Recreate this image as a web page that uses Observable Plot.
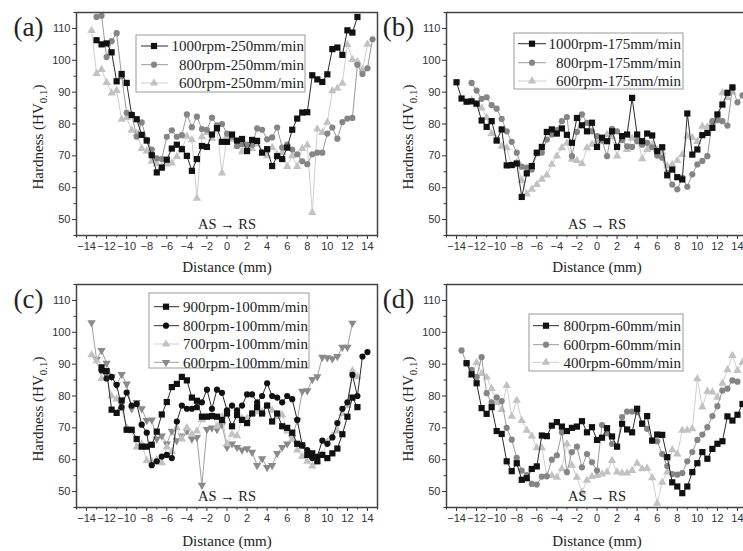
<!DOCTYPE html>
<html><head><meta charset="utf-8">
<script src="https://cdn.jsdelivr.net/npm/d3@7"></script>
<script src="https://cdn.jsdelivr.net/npm/@observablehq/plot@0.6"></script>
<style>
html,body{margin:0;padding:0;background:#fff;}
#chart{position:relative;width:743px;height:551px;overflow:hidden;background:#fff;}
.panel{position:absolute;width:380px;}
</style></head><body><div id="chart"></div>
<script>
// measurement positions (mm), 0.5 mm step
const distance = [
  -14, -13.5, -13, -12.5, -12, -11.5, -11, -10.5, -10, -9.5,
  -9, -8.5, -8, -7.5, -7, -6.5, -6, -5.5, -5, -4.5,
  -4, -3.5, -3, -2.5, -2, -1.5, -1, -0.5, 0, 0.5,
  1, 1.5, 2, 2.5, 3, 3.5, 4, 4.5, 5, 5.5,
  6, 6.5, 7, 7.5, 8, 8.5, 9, 9.5, 10, 10.5,
  11, 11.5, 12, 12.5, 13, 13.5, 14, 14.5];
const xTickLabels = [-14, -12, -10, -8, -6, -4, -2, 0, 2, 4, 6, 8, 10, 12, 14];
const xMinorTicks = [-15, -13, -11, -9, -7, -5, -3, -1, 1, 3, 5, 7, 9, 11, 13, 15];
const yTickLabels = [50, 60, 70, 80, 90, 100, 110];
const yMinorTicks = [45, 55, 65, 75, 85, 95, 105, 115];

// (a) 250 mm/min
const a1000 = [
  null, null, 106.3, 105.0, 105.3, 102.5, 93.4, 95.7, 92.9, 82.8,
  81.5, 76.6, 74.8, 70.2, 64.8, 66.3, 68.8, 72.3, 73.5, 72.1,
  70.0, 65.3, 69.0, 73.1, 72.8, 76.7, 78.7, 74.4, 74.4, 76.7,
  74.8, 75.3, 71.5, 75.0, 74.7, 71.0, 72.1, 66.8, 69.9, 69.0,
  72.6, 78.2, 81.7, 83.6, 83.7, 95.3, 94.0, 93.2, 95.6, 103.5,
  104.0, 101.7, 109.4, 108.7, 113.6, null, null, null];
const a800 = [
  null, null, 113.6, 114.0, 101.0, 106.0, 108.5, 95.0, 83.5, 83.0,
  76.0, 80.5, 75.0, 72.0, 69.2, 69.0, 76.0, 78.0, 76.0, 76.5,
  83.0, 79.0, 82.3, 78.4, 78.2, 82.0, 79.6, 80.0, 77.0, 76.0,
  73.1, 73.7, 73.5, 73.5, 78.6, 78.2, 75.2, 75.8, 78.9, 72.6,
  73.5, 72.0, 70.5, 68.3, 67.4, 70.5, 71.0, 71.0, 77.0, 78.9,
  75.4, 80.6, 81.7, 81.9, 98.6, 95.7, 97.5, 106.6];
const a600 = [
  null, 109.3, 95.8, 97.1, 93.0, 89.7, 90.5, 81.5, 82.0, 78.0,
  77.0, 72.3, 71.5, 68.3, 67.5, 66.6, 67.4, 67.7, 69.8, 72.1,
  76.1, 75.0, 56.7, 76.0, 77.3, 75.4, 78.2, 64.6, 76.3, 75.2,
  73.1, 71.3, 73.0, 72.3, 73.7, 71.0, 70.0, 72.6, 70.5, 71.0,
  66.6, 70.0, 66.6, 72.3, 73.4, 52.2, 78.4, 77.3, 80.5, 90.4,
  91.2, 92.8, 104.9, 100.2, 99.5, 97.0, 105.0, null];

// (b) 175 mm/min
const b1000 = [
  93.1, 88.0, 87.0, 87.1, 86.4, 81.1, 79.1, 80.9, 74.8, 78.3,
  67.0, 67.1, 67.6, 57.1, 64.5, 66.8, 71.0, 72.8, 77.5, 78.3,
  77.0, 78.6, 76.6, 74.1, 81.9, 79.6, 77.7, 80.4, 72.8, 75.7,
  74.6, 77.7, 72.8, 76.2, 76.7, 88.2, 76.7, 74.6, 77.0, 76.4,
  71.5, 72.7, 63.9, 65.7, 63.3, 62.6, 83.3, 70.4, 72.0, 76.5,
  77.2, 78.8, 83.0, 86.1, 89.8, 91.5, null, null];
const b800 = [
  null, null, null, 92.9, 90.5, 87.9, 88.4, 85.9, 84.8, 81.6,
  77.7, 74.4, 71.0, 66.6, 66.3, 65.7, 70.8, 71.0, 75.1, 76.7,
  78.1, 80.9, 82.2, 69.9, 77.5, 83.0, 80.4, 77.7, 76.2, 74.8,
  69.9, 78.5, 77.7, 75.0, 73.0, 72.8, 74.6, 73.5, 74.1, 72.7,
  70.1, 69.4, 64.7, 61.0, 59.5, 63.1, 60.3, 64.2, 67.3, 68.4,
  69.9, 80.9, 81.2, 80.9, 79.5, 91.3, 86.8, 89.0];
const b600 = [
  null, null, null, 87.5, 86.0, 85.0, 82.0, 77.0, 75.0, 73.0,
  72.5, 67.0, 68.0, 62.3, 58.0, 59.5, 61.0, 62.6, 64.0, 67.3,
  69.9, 72.5, 74.0, 68.9, 68.5, 67.6, 72.5, 73.6, 74.6, 75.1,
  76.7, 76.0, 69.9, 75.5, 72.0, 75.5, 76.0, 69.1, 72.0, 73.5,
  72.0, 71.0, 66.8, 67.3, 68.5, 70.4, 76.2, 75.7, 74.5, 79.3,
  79.0, 80.5, 82.4, 89.8, 88.2, 90.0, null, null];

// (c) 100 mm/min
const c900 = [
  null, null, null, 89.0, 87.8, 75.7, 74.7, 78.6, 69.4, 69.4,
  66.5, 64.1, 64.1, 64.7, 68.8, 74.2, 78.1, 82.8, 83.8, 86.0,
  84.9, 79.5, 78.5, 73.5, 73.5, 73.7, 73.5, 72.5, 74.5, 70.5,
  74.0, 72.5, 71.5, 74.5, 76.5, 74.5, 77.0, 72.0, 74.5, 70.5,
  70.0, 68.5, 65.0, 64.5, 61.5, 62.0, 59.5, 61.5, 60.5, 62.0,
  63.5, 68.0, 73.5, 79.5, 76.5, null, null, null];
const c800 = [
  null, null, null, 88.0, 85.5, 86.0, 83.5, 76.5, 81.1, 77.0,
  77.5, 71.0, 68.5, 58.3, 59.5, 61.0, 61.5, 60.5, 72.0, 77.0,
  76.0, 76.0, 76.5, 78.0, 82.0, 76.0, 82.0, 81.0, 75.5, 77.0,
  75.5, 77.0, 80.5, 80.5, 78.0, 80.0, 84.0, 80.0, 79.5, 78.0,
  80.0, 79.0, 72.5, 64.5, 63.0, 60.5, 61.0, 66.0, 65.0, 67.0,
  71.5, 76.0, 78.0, 86.6, 80.0, 92.4, 93.8, null];
const c700 = [
  null, 92.9, 91.0, 85.5, 86.0, 80.0, 79.0, 76.0, 70.0, 69.0,
  64.0, 65.0, 59.7, 59.5, 60.0, 59.0, 64.0, 62.5, 70.0, 66.5,
  70.0, 68.0, 69.0, 72.5, 73.5, 74.0, 70.5, 73.5, 65.0, 68.0,
  67.5, 73.0, 73.0, 74.5, 75.0, 75.0, 77.0, 75.5, 73.5, 74.0,
  69.0, 66.5, 63.0, 61.0, 59.5, 58.0, 59.5, 61.5, 65.5, 67.5,
  69.0, 74.5, 77.0, 88.0, 86.0, null, null, null];
const c600 = [
  null, 103.0, 91.5, 94.3, 90.3, 86.0, 83.5, 86.8, 83.8, 76.0,
  78.0, 76.0, 72.3, 72.5, 66.5, 67.5, 65.0, 69.0, 66.0, 67.5,
  69.0, 66.5, 67.0, 52.0, 69.5, 70.0, 69.5, 71.0, 63.9, 65.0,
  63.9, 63.1, 63.5, 62.4, 58.2, 60.3, 57.6, 58.2, 62.0, 63.9,
  65.0, 67.0, 72.3, 81.5, 81.7, 85.2, 86.1, 92.2, 92.0, 91.7,
  92.4, 95.3, 95.3, 102.9, null, null, null, null];

// (d) 60 mm/min
const d800 = [
  null, null, 90.3, 86.8, 84.0, 76.2, 74.4, 76.5, 69.0, 68.1,
  59.5, 56.4, 58.9, 53.7, 54.2, 57.1, 57.9, 67.6, 67.4, 70.7,
  71.8, 70.4, 69.0, 70.0, 70.4, 72.1, 68.6, 70.2, 66.2, 66.9,
  69.9, 67.3, 64.1, 71.3, 69.5, 68.6, 76.0, 71.3, 73.7, 66.0,
  67.9, 67.8, 60.8, 52.9, 51.6, 49.5, 51.6, 56.1, 58.9, 62.4,
  60.3, 63.4, 65.0, 65.8, 73.6, 72.3, 74.1, 77.5];
const d600 = [
  null, 94.3, 90.3, 88.2, 85.9, 92.2, 80.9, 78.0, 79.6, 78.4,
  70.0, 66.3, 60.6, 56.6, 55.2, 52.4, 52.2, 54.7, 54.8, 60.0,
  61.4, 68.6, 56.1, 62.4, 64.1, 57.6, 61.8, 59.2, 56.6, 70.9,
  68.3, 65.0, 64.1, 73.4, 75.1, 75.1, 74.9, 71.3, 69.7, 66.0,
  65.8, 61.8, 58.0, 55.5, 55.3, 55.8, 59.5, 62.4, 66.2, 67.9,
  70.2, 73.7, 76.8, 81.7, 82.3, 84.9, 84.5, null];
const d400 = [
  null, null, null, 86.5, 90.5, 87.0, 85.9, 82.3, 77.9, 75.7,
  83.3, 73.6, 78.6, 72.3, 69.2, 67.4, 63.7, 63.7, 55.0, 55.0,
  54.5, 57.1, 65.0, 58.2, 54.5, 49.8, 53.5, 54.7, 55.0, 55.5,
  56.1, 59.7, 56.1, 55.8, 55.8, 56.6, 58.9, 57.1, 57.3, 54.3,
  46.3, 52.9, 56.1, 63.1, 61.8, 69.2, 69.2, 69.7, 85.4, 76.5,
  81.5, 81.2, 79.6, 84.0, 88.2, 92.7, 88.0, 90.6];

const SERIF = "'Liberation Serif','Times New Roman',serif";
const SANS = "'Liberation Sans',Arial,sans-serif";
const triangleDown = {
  draw(context, size) {
    const y = Math.sqrt(size / (Math.sqrt(3) * 3));
    context.moveTo(0, 2 * y);
    context.lineTo(-Math.sqrt(3) * y, -y);
    context.lineTo(Math.sqrt(3) * y, -y);
    context.closePath();
  }
};
const SYM = {square: d3.symbolSquare, circle: d3.symbolCircle, triangle: d3.symbolTriangle, down: triangleDown};
const PLOTSYM = {square: "square", circle: "circle", triangle: "triangle", down: triangleDown};
const R = {square: 3.5, circle: 3.1, triangle: 3.1, down: 3.1};
const BLACK = {fill: "#111", line: "#2b2b2b"};
const GRAY = {fill: "#858585", line: "#9a9a9a"};
const LIGHT = {fill: "#c2c2c2", line: "#cfcfcf"};

const panels = [
  {left: 0, top: 0, height: 275, mb: 40, label: "(a)",
   series: [
     {name: "1000rpm-250mm/min", values: a1000, sym: "square", ...BLACK},
     {name: "800rpm-250mm/min", values: a800, sym: "circle", ...GRAY},
     {name: "600rpm-250mm/min", values: a600, sym: "triangle", ...LIGHT}],
   legend: {x0: 136, y0: 35, x1: 305, y1: 92, rows: [46, 64.7, 83], sx: 154, lx0: 141, lx1: 168, tx: 304}},
  {left: 370, top: 0, height: 275, mb: 40, label: "(b)",
   series: [
     {name: "1000rpm-175mm/min", values: b1000, sym: "square", ...BLACK},
     {name: "800rpm-175mm/min", values: b800, sym: "circle", ...GRAY},
     {name: "600rpm-175mm/min", values: b600, sym: "triangle", ...LIGHT}],
   legend: {x0: 144, y0: 33, x1: 313, y1: 89, rows: [43.7, 62.7, 81], sx: 162, lx0: 148, lx1: 176, tx: 311}},
  {left: 0, top: 272, height: 279, mb: 44, label: "(c)",
   series: [
     {name: "900rpm-100mm/min", values: c900, sym: "square", ...BLACK},
     {name: "800rpm-100mm/min", values: c800, sym: "circle", ...BLACK},
     {name: "700rpm-100mm/min", values: c700, sym: "triangle", ...LIGHT},
     {name: "600rpm-100mm/min", values: c600, sym: "down", fill: "#8a8a8a", line: "#a0a0a0"}],
   legend: {x0: 149, y0: 21, x1: 309, y1: 96, rows: [34.7, 53.7, 72, 90.3], sx: 166, lx0: 154, lx1: 179, tx: 308}},
  {left: 370, top: 272, height: 279, mb: 44, label: "(d)",
   series: [
     {name: "800rpm-60mm/min", values: d800, sym: "square", ...BLACK},
     {name: "600rpm-60mm/min", values: d600, sym: "circle", ...GRAY},
     {name: "400rpm-60mm/min", values: d400, sym: "triangle", ...LIGHT}],
   legend: {x0: 159, y0: 42, x1: 313, y1: 99, rows: [53.7, 72.7, 90.3], sx: 176, lx0: 163, lx1: 189, tx: 311}}
];

function rowsOf(values) {
  return distance.map((d, i) => ({d, v: values[i]})).filter(r => r.v != null);
}

const chart = document.getElementById("chart");
for (const p of panels) {
  const drawOrder = p.series.slice().reverse();
  const marks = [];
  for (const s of drawOrder) {
    const rows = rowsOf(s.values);
    marks.push(Plot.line(rows, {x: "d", y: "v", stroke: s.line, strokeWidth: 1}));
    marks.push(Plot.dot(rows, {x: "d", y: "v", symbol: PLOTSYM[s.sym], r: R[s.sym], fill: s.fill, stroke: "none"}));
  }
  marks.push(
    Plot.axisX(xTickLabels, {tickSize: 4, tickPadding: 3, fontSize: 11, label: null, stroke: "#333", fill: "#333"}),
    Plot.axisX(xMinorTicks, {tickSize: 2.5, tickFormat: () => "", label: null, stroke: "#333"}),
    Plot.axisY(yTickLabels, {tickSize: 4, tickPadding: 2, fontSize: 11, label: null, stroke: "#333", fill: "#333"}),
    Plot.axisY(yMinorTicks, {tickSize: 2.5, tickFormat: () => "", label: null, stroke: "#333"}),
    Plot.frame({stroke: "#444", strokeWidth: 1.5}),
    Plot.text([{x: 0, t: "AS \u2192 RS"}], {x: "x", text: "t", frameAnchor: "bottom", dy: -11, lineAnchor: "middle", fontFamily: SERIF, fontSize: 14.5, fill: "#222"}),
    Plot.text(["Distance (mm)"], {frameAnchor: "bottom", dy: p.mb === 40 ? 32 : 34, lineAnchor: "middle", fontFamily: SERIF, fontSize: 15, fill: "#222"}),
    Plot.text([p.label], {frameAnchor: "top-left", dx: -48, dy: 15, lineAnchor: "middle", textAnchor: "middle", fontFamily: SERIF, fontSize: 27, fill: "#222"})
  );
  const svg = Plot.plot({
    width: 380, height: p.height,
    marginLeft: 76, marginRight: 3, marginTop: 12, marginBottom: p.mb,
    x: {domain: [-15, 15]},
    y: {domain: [45, 115]},
    style: {background: "transparent", fontFamily: SANS, fontSize: "11px", color: "#333", overflow: "visible"},
    marks
  });
  const sel = d3.select(svg);
  // y axis title with subscript
  const t = sel.append("text")
    .attr("transform", "translate(43,137) rotate(-90)")
    .attr("text-anchor", "middle")
    .attr("font-family", SERIF).attr("font-size", 15).attr("fill", "#222");
  t.append("tspan").text("Hardness (HV");
  t.append("tspan").attr("font-size", 11).attr("dy", 4).text("0.1");
  t.append("tspan").attr("dy", -4).text(")");
  // legend
  const L = p.legend;
  const g = sel.append("g");
  g.append("rect").attr("x", L.x0).attr("y", L.y0).attr("width", L.x1 - L.x0).attr("height", L.y1 - L.y0)
    .attr("fill", "white").attr("stroke", "#9a9a9a").attr("stroke-width", 1);
  p.series.forEach((s, i) => {
    const y = L.rows[i];
    g.append("line").attr("x1", L.lx0).attr("x2", L.lx1).attr("y1", y).attr("y2", y)
      .attr("stroke", s.line).attr("stroke-width", 1);
    g.append("path").attr("d", d3.symbol(SYM[s.sym], Math.PI * R[s.sym] * R[s.sym])())
      .attr("transform", `translate(${L.sx},${y})`).attr("fill", s.fill);
    g.append("text").attr("x", L.tx).attr("y", y).attr("dy", "0.35em").attr("text-anchor", "end")
      .attr("font-family", SERIF).attr("font-size", 15).attr("fill", "#222").text(s.name);
  });
  const div = document.createElement("div");
  div.className = "panel";
  div.style.left = p.left + "px";
  div.style.top = p.top + "px";
  div.appendChild(svg);
  chart.appendChild(div);
}
</script>
</body></html>
